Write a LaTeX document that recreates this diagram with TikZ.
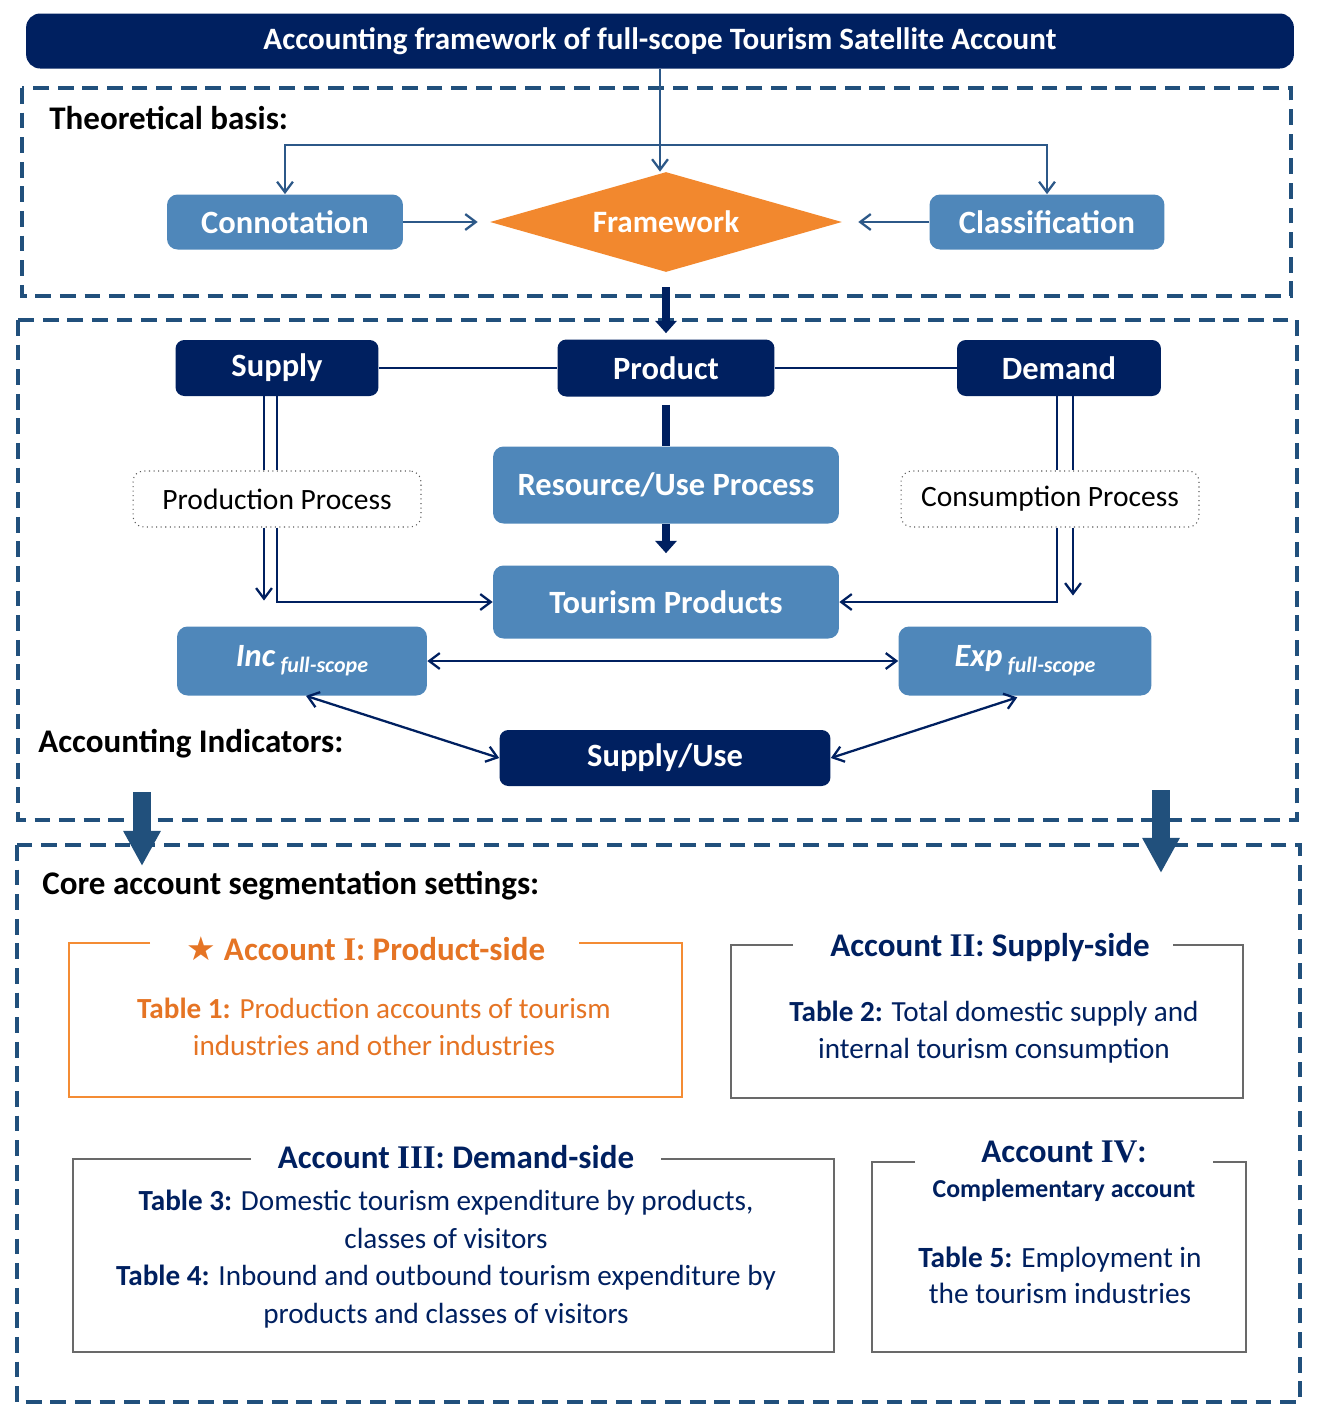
\documentclass[tikz,border=0pt]{standalone}
\usepackage{fontspec}
\setmainfont{Carlito}
\newfontfamily\numeralfont{Liberation Serif}
\newfontfamily\symbolfont{DejaVu Sans}
\usepackage{tikz}
\usetikzlibrary{positioning, arrows.meta, shapes.geometric, calc}

\definecolor{NavyColor}{RGB}{0,32,96}
\definecolor{BoxColor}{RGB}{79,135,186}
\definecolor{FrameColor}{RGB}{33,80,124}
\definecolor{LinkColor}{RGB}{44,88,136}
\definecolor{DiamondColor}{RGB}{242,136,46}
\definecolor{OrangeText}{RGB}{229,116,36}
\definecolor{OrangeLine}{RGB}{244,140,52}
\definecolor{GreyLine}{RGB}{105,105,105}
\definecolor{DotColor}{RGB}{90,90,90}

\tikzstyle{group} = [FrameColor, line width=2pt, dash pattern=on 9pt off 5pt]
\tikzstyle{navybox} = [rectangle, rounded corners=5pt, fill=NavyColor, text=white, inner sep=0pt, font=\bfseries\fontsize{18.5}{22}\selectfont]
\tikzstyle{bluebox} = [rectangle, rounded corners=6pt, fill=BoxColor, text=white, inner sep=0pt, font=\bfseries\fontsize{18.5}{22}\selectfont]
\tikzstyle{procbox} = [rectangle, rounded corners=6pt, draw=DotColor, dotted, line width=0.6pt, fill=white, inner sep=0pt, font=\fontsize{16.8}{20}\selectfont]
\tikzstyle{heading} = [anchor=west, inner sep=0pt, font=\bfseries\fontsize{18.8}{22}\selectfont]
\tikzstyle{accthead} = [inner sep=0pt, font=\bfseries\fontsize{18.8}{22}\selectfont]
\tikzstyle{accttext} = [inner sep=0pt, align=center, font=\fontsize{16.6}{21.3}\selectfont]
\tikzstyle{link} = [LinkColor, line width=1.3pt, -{Straight Barb[length=6pt, width=9pt]}]
\tikzstyle{navyline} = [NavyColor, line width=1.3pt]
\tikzstyle{navylink} = [navyline, -{Straight Barb[length=6pt, width=9pt]}]
\tikzstyle{bilink} = [navyline, {Straight Barb[length=6pt, width=9pt]}-{Straight Barb[length=6pt, width=9pt]}]
\tikzstyle{fatline} = [NavyColor, line width=5pt]
\tikzstyle{fatlink} = [fatline, -{Triangle[length=7pt, width=12pt]}]
\tikzstyle{bigarrow} = [FrameColor, line width=10pt, -{Triangle[length=20pt, width=20pt]}]
\tikzstyle{orangeframe} = [OrangeLine, line width=1.6pt]
\tikzstyle{greyframe} = [GreyLine, line width=1.2pt]

\begin{document}
\begin{tikzpicture}[x=0.02cm, y=-0.02cm]
\useasboundingbox (0,0) rectangle (1324,1424);

% Title
\node[navybox, rounded corners=8pt, minimum width=25.36cm, minimum height=1.1cm, font=\bfseries\fontsize{17.7}{21}\selectfont] (title) at (660,41) {Accounting framework of full-scope Tourism Satellite Account};

% Theoretical basis
\draw[group] (22,88) rectangle (1291,296);
\node[heading] (basis) at (49,118) {Theoretical basis:};
\node[bluebox, minimum width=4.72cm, minimum height=1.1cm] (connot) at (285,222) {Connotation};
\node[diamond, aspect=3.52, fill=DiamondColor, text=white, inner sep=0pt, minimum width=7.04cm, minimum height=2cm, font=\bfseries\fontsize{17.7}{21}\selectfont] (frame) at (666,222) {Framework};
\node[bluebox, minimum width=4.7cm, minimum height=1.1cm] (classif) at (1047,222) {Classification};
\coordinate (split) at (660,145);
\draw[link] (title.south -| split) -- (split |- frame.north);
\draw[link] (split) -| (connot.north);
\draw[link] (split) -| (classif.north);
\draw[link, shorten >=0.24cm] (connot.east) -- (frame.west);
\draw[link, shorten >=0.32cm] (classif.west) -- (frame.east);

% Accounting indicators
\draw[group] (18,320) rectangle (1297,820);
\node[navybox, minimum width=4.06cm, minimum height=1.12cm] (supply) at (277,368) {Supply};
\node[navybox, minimum width=4.34cm, minimum height=1.14cm] (product) at (666,368) {Product};
\node[navybox, minimum width=4.08cm, minimum height=1.12cm] (demand) at (1059,368) {Demand};
\node[bluebox, minimum width=6.92cm, minimum height=1.54cm] (resource) at (666,485) {Resource/Use Process};
\node[bluebox, minimum width=6.92cm, minimum height=1.46cm] (tourism) at (666,602) {Tourism Products};
\node[procbox, minimum width=5.76cm, minimum height=1.12cm] (prodproc) at (277,499) {Production Process};
\node[procbox, minimum width=5.96cm, minimum height=1.12cm] (consproc) at (1050,499) {Consumption Process};
\node[bluebox, minimum width=5cm, minimum height=1.38cm] (inc) at (302,661) {\itshape Inc\,\raisebox{-0.4ex}{\fontsize{12.5}{14}\selectfont full-scope}};
\node[bluebox, minimum width=5.06cm, minimum height=1.38cm] (exp) at (1025,661) {\itshape Exp\,\raisebox{-0.4ex}{\fontsize{12.5}{14}\selectfont full-scope}};
\node[navybox, minimum width=6.62cm, minimum height=1.12cm] (supplyuse) at (665,758) {Supply/Use};
\node[heading] (indic) at (38,744) {Accounting Indicators:};

\draw[fatlink, shorten <=0.3cm, shorten >=0.12cm] (frame.south) -- (product.north);
\draw[navyline] (supply.east) -- (product.west);
\draw[navyline] (product.east) -- (demand.west);
\draw[fatline, shorten <=0.16cm] (product.south) -- (resource.north);
\draw[fatlink, shorten >=0.24cm] (resource.south) -- (tourism.north);

% Production side
\draw[navyline] ($(supply.south)+(-13,0)$) -- ($(supply.south |- prodproc.north)+(-13,0)$);
\draw[navyline] (supply.south) -- (supply.south |- prodproc.north);
\draw[navylink] ($(prodproc.south)+(-13,0)$) -- ++(0,73);
\draw[navylink] (prodproc.south) |- (tourism.west);

% Consumption side
\draw[navyline] ($(demand.south)+(-2,0)$) -- ($(demand.south |- consproc.north)+(-2,0)$);
\draw[navyline] ($(demand.south)+(14,0)$) -- ($(demand.south |- consproc.north)+(14,0)$);
\draw[navylink] ($(demand.south |- consproc.south)+(-2,0)$) |- (tourism.east);
\draw[navylink] ($(demand.south |- consproc.south)+(14,0)$) -- ++(0,68);

% Indicators
\draw[bilink] (inc.east) -- (exp.west);
\draw[bilink] ($(inc.south)+(4,0)$) -- (supplyuse.west);
\draw[bilink, shorten >=0.1cm] (supplyuse.east) -- ($(exp.south)+(-3,0)$);

% Core accounts
\draw[group] (17,845) rectangle (1300,1402);
\draw[bigarrow] (142,792) -- (142,866);
\draw[bigarrow] (1161,790) -- (1161,873);
\node[heading] (core) at (42,886) {Core account segmentation settings:};

\draw[orangeframe] (150,943) -- (69,943) -- (69,1097) -- (682,1097) -- (682,943) -- (579,943);
\node[accthead, text=OrangeText] (acct1) at (366,949) {{\symbolfont ★} Account {\numeralfont\bfseries I}: Product-side};
\node[accttext, text=OrangeText] (tab1) at (374,1027) {{\bfseries Table 1:} Production accounts of tourism\\industries and other industries};

\draw[greyframe] (793,945) -- (731,945) -- (731,1098) -- (1243,1098) -- (1243,945) -- (1173,945);
\node[accthead, text=NavyColor] (acct2) at (990,947) {Account {\numeralfont\bfseries II}: Supply-side};
\node[accttext, text=NavyColor] (tab2) at (994,1032) {{\bfseries Table 2:} Total domestic supply and\\internal tourism consumption};

\draw[greyframe] (251,1159) -- (73,1159) -- (73,1352) -- (834,1352) -- (834,1159) -- (661,1159);
\node[accthead, text=NavyColor] (acct3) at (456,1157) {Account {\numeralfont\bfseries III}: Demand-side};
\node[accttext, text=NavyColor] (tab34) at (446,1259) {{\bfseries Table 3:} Domestic tourism expenditure by products,\\classes of visitors\\{\bfseries Table 4:} Inbound and outbound tourism expenditure by\\products and classes of visitors};

\draw[greyframe] (915,1162) -- (872,1162) -- (872,1352) -- (1246,1352) -- (1246,1162) -- (1213,1162);
\node[accthead, text=NavyColor] (acct4) at (1064,1152) {Account {\numeralfont\bfseries IV}:};
\node[accthead, text=NavyColor, font=\bfseries\fontsize{14.7}{18}\selectfont] (compl) at (1064,1190) {Complementary account};
\node[accttext, text=NavyColor, font=\fontsize{16.7}{20.5}\selectfont] (tab5) at (1060,1275) {{\bfseries Table 5:} Employment in\\the tourism industries};
\end{tikzpicture}
\end{document}
